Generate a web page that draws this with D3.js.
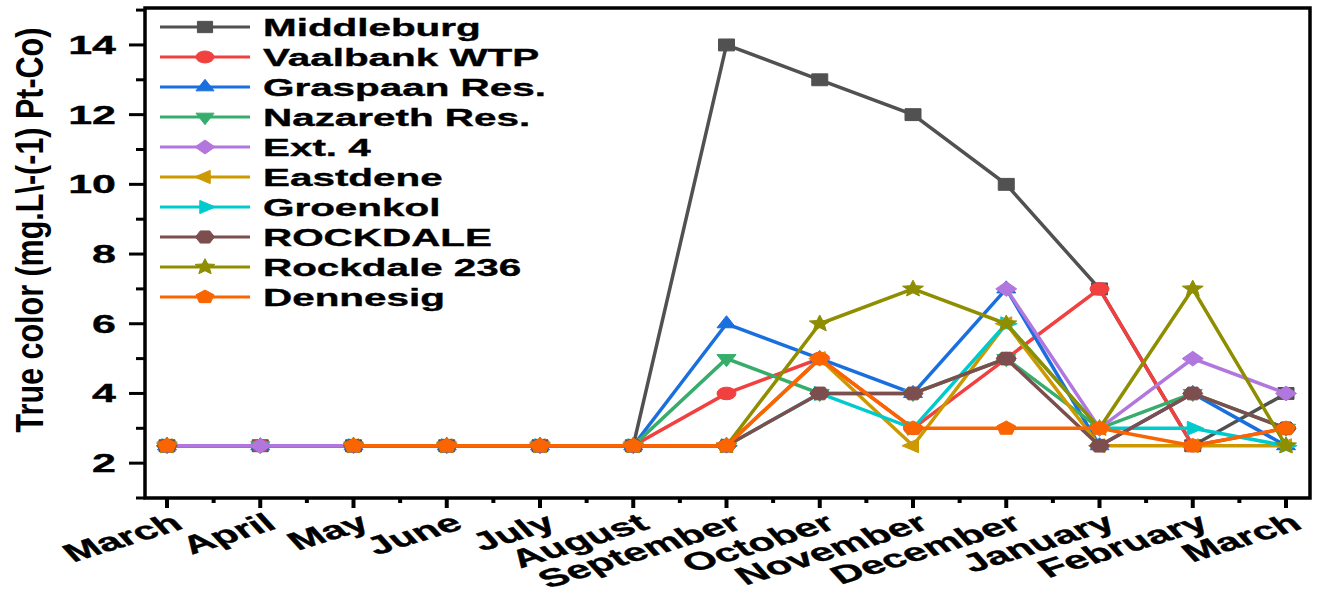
<!DOCTYPE html>
<html>
<head>
<meta charset="utf-8">
<script src="https://cdn.jsdelivr.net/npm/d3@7"></script>
<style>
  html, body { margin: 0; padding: 0; background: #fff; }
  svg { display: block; }
  text { font-family: "Liberation Sans", Arial, sans-serif; font-weight: bold; fill: #000; }
  .heavy { stroke: #000; stroke-width: 0.35px; }
</style>
</head>
<body>
<svg id="chart" width="1320" height="597"></svg>
<script>
// Months sampled (March through the following March)
const months = ["March", "April", "May", "June", "July", "August", "September",
                "October", "November", "December", "January", "February", "March"];

// Sampling sites, in plotting order
const sites = ["Middleburg", "Vaalbank WTP", "Graspaan Res.", "Nazareth Res.", "Ext. 4",
               "Eastdene", "Groenkol", "ROCKDALE", "Rockdale 236", "Dennesig"];

// True colour per site and month (null = not sampled)
const middleburg  = [2.5, 2.5, 2.5, 2.5, 2.5, 2.5, 14, 13, 12, 10, 7, 2.5, 4];
const vaalbank    = [2.5, 2.5, 2.5, 2.5, 2.5, 2.5, 4, 5, 3, 5, 7, 2.5, 3];
const graspaan    = [2.5, 2.5, 2.5, 2.5, 2.5, 2.5, 6, 5, 4, 7, 2.5, 4, 2.5];
const nazareth    = [2.5, 2.5, 2.5, 2.5, 2.5, 2.5, 5, 4, 4, 5, 3, 4, 3];
const ext4        = [2.5, 2.5, 2.5, 2.5, 2.5, 2.5, 2.5, 5, null, 7, 3, 5, 4];
const eastdene    = [2.5, null, 2.5, 2.5, 2.5, 2.5, 2.5, 5, 2.5, 6, 2.5, 2.5, 2.5];
const groenkol    = [2.5, null, 2.5, 2.5, 2.5, 2.5, 2.5, 4, 3, 6, 3, 3, 2.5];
const rockdale    = [2.5, null, 2.5, 2.5, 2.5, 2.5, 2.5, 4, 4, 5, 2.5, 4, 3];
const rockdale236 = [2.5, null, 2.5, 2.5, 2.5, 2.5, 2.5, 6, 7, 6, 3, 7, 2.5];
const dennesig    = [2.5, null, 2.5, 2.5, 2.5, 2.5, 2.5, 5, 3, 3, 3, 2.5, 3];

const seriesValues = [middleburg, vaalbank, graspaan, nazareth, ext4,
                      eastdene, groenkol, rockdale, rockdale236, dennesig];

const colors = ["#515151", "#F14040", "#1A6FDF", "#37AD6B", "#B177DE",
                "#CC9900", "#00CBCC", "#7D4E4E", "#8E8E00", "#FB6501"];

const markerShapes = ["square", "circle", "up", "down", "diamond",
                      "left", "right", "hexagon", "star", "pentagon"];

const yTicks = [2, 4, 6, 8, 10, 12, 14];
const yMinorTicks = [1, 3, 5, 7, 9, 11, 13, 15];
const yTitle = "True color (mg.L\\-(-1) Pt-Co)";

// ---- layout ----
const svg = d3.select("#chart");
const frame = { left: 145, right: 1310, top: 8, bottom: 498 };
const stretch = 1.72;   // horizontal scaling of glyphs

const x = d3.scalePoint().domain(d3.range(months.length)).range([167, 1286]);
const y = d3.scaleLinear().domain([1, 15.06]).range([frame.bottom, frame.top]);

// marker outlines: polygons / ellipses wider than tall
function polygon(n, rot, rx, ry) {
  const pts = [];
  for (let i = 0; i < n; i++) {
    const a = rot + i * 2 * Math.PI / n;
    pts.push([rx * Math.cos(a), ry * Math.sin(a)]);
  }
  return "M" + pts.map(p => p.join(",")).join("L") + "Z";
}
function star(rx, ry) {
  const pts = [];
  for (let i = 0; i < 10; i++) {
    const a = -Math.PI / 2 + i * Math.PI / 5;
    const r = i % 2 === 0 ? 1 : 0.45;
    pts.push([r * rx * Math.cos(a), r * ry * Math.sin(a)]);
  }
  return "M" + pts.map(p => p.join(",")).join("L") + "Z";
}
function markerPath(shape, s) {
  const rx = 10 * s, ry = 7 * s;
  switch (shape) {
    case "square":  return `M${-rx*0.8},${-ry*0.85}H${rx*0.8}V${ry*0.85}H${-rx*0.8}Z`;
    case "circle":  return `M${-rx*0.95},0A${rx*0.95},${ry*0.9} 0 1,0 ${rx*0.95},0A${rx*0.95},${ry*0.9} 0 1,0 ${-rx*0.95},0Z`;
    case "up":      return polygon(3, -Math.PI / 2, rx * 1.1, ry * 1.15);
    case "down":    return polygon(3, Math.PI / 2, rx * 1.1, ry * 1.15);
    case "diamond": return polygon(4, 0, rx * 1.05, ry * 1.05);
    case "left":    return polygon(3, Math.PI, rx * 1.1, ry * 1.15);
    case "right":   return polygon(3, 0, rx * 1.1, ry * 1.15);
    case "hexagon": return polygon(6, 0, rx, ry * 1.05);
    case "star":    return star(rx * 1.1, ry * 1.25);
    case "pentagon":return polygon(5, -Math.PI / 2, rx, ry * 1.05);
  }
}

// ---- axes frame ----
const axisG = svg.append("g");

// y ticks
axisG.selectAll("line.ymaj").data(yTicks).join("line")
  .attr("x1", frame.left - 16).attr("x2", frame.left)
  .attr("y1", d => y(d)).attr("y2", d => y(d))
  .attr("stroke", "#000").attr("stroke-width", 3);
axisG.selectAll("line.ymin").data(yMinorTicks).join("line")
  .attr("x1", frame.left - 9).attr("x2", frame.left)
  .attr("y1", d => y(d)).attr("y2", d => y(d))
  .attr("stroke", "#000").attr("stroke-width", 3);
axisG.selectAll("text.ylab").data(yTicks).join("text")
  .attr("class", "heavy")
  .attr("transform", d => `translate(116,${y(d) + 9}) scale(${stretch},1)`)
  .attr("text-anchor", "end")
  .attr("font-size", 25)
  .text(d => d);

// x ticks
const idx = d3.range(months.length);
axisG.selectAll("line.xmaj").data(idx).join("line")
  .attr("x1", d => x(d)).attr("x2", d => x(d))
  .attr("y1", frame.bottom).attr("y2", frame.bottom + 10)
  .attr("stroke", "#000").attr("stroke-width", 4);
axisG.selectAll("line.xmin").data(idx.slice(0, -1)).join("line")
  .attr("x1", d => (x(d) + x(d + 1)) / 2).attr("x2", d => (x(d) + x(d + 1)) / 2)
  .attr("y1", frame.bottom).attr("y2", frame.bottom + 5)
  .attr("stroke", "#000").attr("stroke-width", 4);
axisG.selectAll("text.xlab").data(idx).join("text")
  .attr("class", "heavy")
  .attr("transform", d => `translate(${x(d) + 18},${frame.bottom + 30}) scale(${stretch},1) rotate(-28)`)
  .attr("text-anchor", "end")
  .attr("font-size", 25)
  .text(d => months[d]);

// y title
svg.append("text")
  .attr("transform", `translate(43,230) scale(1.3,1) rotate(-90)`)
  .attr("text-anchor", "middle")
  .attr("font-size", 30.5)
  .text(yTitle);

// ---- series ----
const line = d3.line()
  .defined(d => d.v !== null)
  .x(d => x(d.i))
  .y(d => y(d.v));

const plot = svg.append("g");
seriesValues.forEach((vals, s) => {
  const pts = vals.map((v, i) => ({ i, v }));
  const g = plot.append("g");
  g.append("path")
    .attr("d", line(pts))
    .attr("fill", "none")
    .attr("stroke", colors[s])
    .attr("stroke-width", 3.5)
    .attr("stroke-linejoin", "miter");
  g.selectAll("path.m").data(pts.filter(d => d.v !== null)).join("path")
    .attr("transform", d => `translate(${x(d.i)},${y(d.v)})`)
    .attr("d", markerPath(markerShapes[s], 1))
    .attr("fill", colors[s])
    .attr("stroke", colors[s])
    .attr("stroke-width", 1);
});

// frame drawn over data
svg.append("rect")
  .attr("x", frame.left).attr("y", frame.top)
  .attr("width", frame.right - frame.left).attr("height", frame.bottom - frame.top)
  .attr("fill", "none").attr("stroke", "#000").attr("stroke-width", 3.5);

// ---- legend ----
const legend = svg.append("g");
sites.forEach((name, s) => {
  const cy = 27 + s * 30;
  legend.append("line")
    .attr("x1", 160).attr("x2", 250).attr("y1", cy).attr("y2", cy)
    .attr("stroke", colors[s]).attr("stroke-width", 3);
  legend.append("path")
    .attr("transform", `translate(205,${cy})`)
    .attr("d", markerPath(markerShapes[s], 0.95))
    .attr("fill", colors[s]).attr("stroke", colors[s]).attr("stroke-width", 1);
  legend.append("text")
    .attr("class", "heavy")
    .attr("transform", `translate(263,${cy + 8.5}) scale(${stretch},1)`)
    .attr("font-size", 23.5)
    .text(name);
});
</script>
</body>
</html>
